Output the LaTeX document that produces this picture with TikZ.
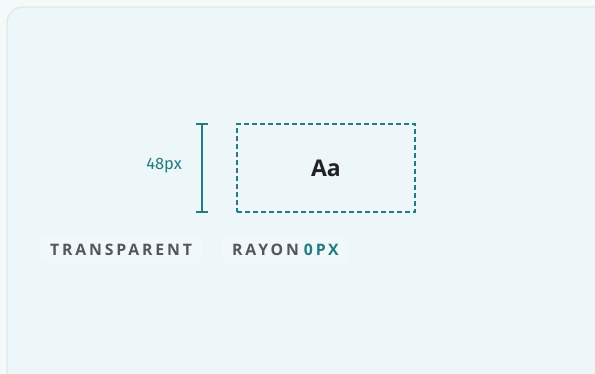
\documentclass[tikz,border=0pt]{standalone}
\usepackage{fontspec}
\setmainfont{Open Sans}
\newfontfamily\trackfont[LetterSpace=18]{Open Sans}
\newfontfamily\numfont{Fira Sans}
\usepackage{tikz}
\usetikzlibrary{positioning}
\definecolor{pagebg}{HTML}{F4F9FA}
\definecolor{cardbg}{HTML}{EDF6F8}
\definecolor{cardline}{HTML}{DCE9EA}
\definecolor{pillbg}{HTML}{F1F8F9}
\definecolor{tealc}{HTML}{217B81}
\definecolor{labelc}{HTML}{55555E}
\definecolor{inkc}{HTML}{222226}
\tikzset{
    card/.style={fill=cardbg, draw=cardline, line width=1.2pt, rounded corners=16pt},
    pill/.style={fill=pillbg, rounded corners=6pt, minimum height=27pt, inner xsep=10pt},
    caption/.style={font=\trackfont\bfseries\fontsize{15.8}{18}\selectfont, text=labelc},
    rule/.style={draw=tealc, line width=2pt},
    frame/.style={draw=tealc, line width=1.4pt, dash pattern=on 5pt off 3pt,
        minimum width=178pt, minimum height=88pt},
}
\begin{document}
\begin{tikzpicture}[x=1pt, y=-1pt]
	\clip (0,0) rectangle (595,374);
	\fill[pagebg] (0,0) rectangle (595,374);
	\draw[card] (7,7) rectangle (612,392);
	% sample box and its size rule
	\node[frame] (box) at (326,168) {};
	\node[font=\bfseries\fontsize{23}{26}\selectfont, text=inkc] (sample) at (box.center) {Aa};
	\coordinate (ruletop) at (202,124);
	\coordinate (rulebot) at (202,212);
	\draw[rule] (ruletop) -- (rulebot);
	\draw[rule] ([xshift=-6pt]ruletop) -- ([xshift=6pt]ruletop);
	\draw[rule] ([xshift=-6pt]rulebot) -- ([xshift=6pt]rulebot);
	\node[anchor=east, font=\numfont\fontsize{16.5}{19}\selectfont, text=tealc, inner sep=0pt] (size) at (182,166) {48px};
	% captions
	\node[pill, caption, anchor=west] (fillname) at (40,250) {TRANSPARENT};
	\node[pill, caption, anchor=west] (radius) at (222,250) {RAYON\kern5pt\textcolor{tealc}{0PX}};
\end{tikzpicture}
\end{document}
